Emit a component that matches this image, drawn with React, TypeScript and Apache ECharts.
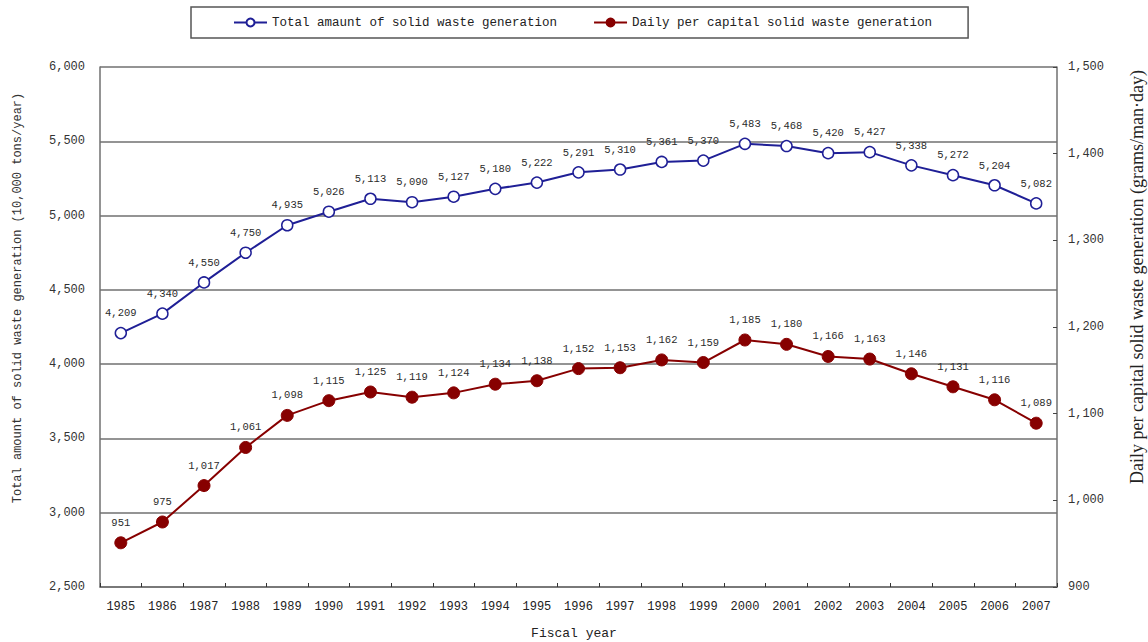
import React, { useEffect, useRef } from "react";
import * as echarts from "echarts";

const years = [
  "1985", "1986", "1987", "1988", "1989", "1990", "1991", "1992", "1993", "1994", "1995", "1996",
  "1997", "1998", "1999", "2000", "2001", "2002", "2003", "2004", "2005", "2006", "2007",
];
const totalWaste = [
  4209, 4340, 4550, 4750, 4935, 5026, 5113, 5090, 5127, 5180, 5222, 5291,
  5310, 5361, 5370, 5483, 5468, 5420, 5427, 5338, 5272, 5204, 5082,
];
const dailyWaste = [
  951, 975, 1017, 1061, 1098, 1115, 1125, 1119, 1124, 1134, 1138, 1152,
  1153, 1162, 1159, 1185, 1180, 1166, 1163, 1146, 1131, 1116, 1089,
];
const seriesNames = [
  "Total amaunt of solid waste generation",
  "Daily per capital solid waste generation",
];
const leftAxisTitle = "Total amount of solid waste generation (10,000 tons/year)";
const rightAxisTitle = "Daily per capital solid waste generation (grams/man\u00b7day)";
const xAxisTitle = "Fiscal year";

const MONO = "'Liberation Mono', 'DejaVu Sans Mono', monospace";
const fmt = (v: number) => v.toLocaleString("en-US");

export default function App() {
  const ref = useRef<HTMLDivElement>(null);
  useEffect(() => {
    if (!ref.current) return;
    const chart = echarts.init(ref.current, undefined, { renderer: "svg" });
    const blue = "#1f1f96";
    const red = "#870000";
    const gridColor = "#707070";
    const labelStyle = {
      show: true,
      position: "top",
      distance: 8,
      fontFamily: MONO,
      fontSize: 10.5,
      color: "#2b2b2b",
      textBorderWidth: 0,
      formatter: (p: any) => fmt(p.value),
    };
    chart.setOption({
      animation: false,
      backgroundColor: "#ffffff",
      legend: {
        left: 191,
        top: 7,
        padding: [9, 36, 9, 42],
        borderColor: "#555",
        borderWidth: 1.5,
        itemWidth: 33,
        itemHeight: 10,
        itemGap: 36,
        textStyle: { fontFamily: MONO, fontSize: 12.5, color: "#222" },
        data: seriesNames,
      },
      grid: { left: 100, right: 91, top: 67, bottom: 55, containLabel: false },
      xAxis: {
        type: "category",
        data: years,
        boundaryGap: true,
        axisLine: { lineStyle: { color: gridColor, width: 1.5 } },
        axisTick: { show: true, inside: true, length: 4, lineStyle: { color: "#333" } },
        axisLabel: { margin: 14, fontFamily: MONO, fontSize: 12, color: "#222" },
      },
      yAxis: [
        {
          type: "value",
          min: 2500,
          max: 6000,
          interval: 500,
          axisLine: { show: true, lineStyle: { color: gridColor, width: 1.5 } },
          axisTick: { show: false },
          splitLine: { show: true, lineStyle: { color: gridColor, width: 1.5 } },
          axisLabel: {
            margin: 15,
            fontFamily: MONO,
            fontSize: 12,
            color: "#333",
            formatter: (v: number) => fmt(v),
          },
        },
        {
          type: "value",
          min: 900,
          max: 1500,
          interval: 100,
          position: "right",
          axisLine: { show: true, lineStyle: { color: gridColor, width: 1.5 } },
          axisTick: { show: true, inside: true, length: 4, lineStyle: { color: "#444" } },
          splitLine: { show: false },
          axisLabel: {
            margin: 11,
            fontFamily: MONO,
            fontSize: 12,
            color: "#333",
            formatter: (v: number) => fmt(v),
          },
        },
      ],
      series: [
        {
          name: seriesNames[0],
          type: "line",
          yAxisIndex: 0,
          data: totalWaste,
          symbol: "circle",
          symbolSize: 11,
          lineStyle: { color: blue, width: 2 },
          itemStyle: { color: "#ffffff", borderColor: blue, borderWidth: 1.5 },
          label: labelStyle,
          emphasis: { disabled: true },
        },
        {
          name: seriesNames[1],
          type: "line",
          yAxisIndex: 1,
          data: dailyWaste,
          symbol: "circle",
          symbolSize: 12,
          lineStyle: { color: red, width: 2 },
          itemStyle: { color: red, borderColor: red, borderWidth: 1 },
          label: labelStyle,
          emphasis: { disabled: true },
        },
      ],
      graphic: [
        {
          type: "text",
          x: 18,
          y: 298,
          rotation: Math.PI / 2,
          style: {
            text: leftAxisTitle,
            fontFamily: MONO,
            fontSize: 12,
            fill: "#333",
            align: "center",
            verticalAlign: "middle",
          },
        },
        {
          type: "text",
          x: 1137,
          y: 277,
          rotation: Math.PI / 2,
          style: {
            text: rightAxisTitle,
            fontFamily: "'Liberation Serif', 'DejaVu Serif', serif",
            fontSize: 18,
            fill: "#222",
            align: "center",
            verticalAlign: "middle",
          },
        },
        {
          type: "text",
          x: 574,
          y: 633,
          style: {
            text: xAxisTitle,
            fontFamily: MONO,
            fontSize: 13,
            fill: "#222",
            align: "center",
            verticalAlign: "middle",
          },
        },
      ],
    });
    return () => chart.dispose();
  }, []);
  return (
    <div
      ref={ref}
      style={{ position: "fixed", left: 0, top: 0, width: 1148, height: 642, background: "#fff" }}
    />
  );
}
